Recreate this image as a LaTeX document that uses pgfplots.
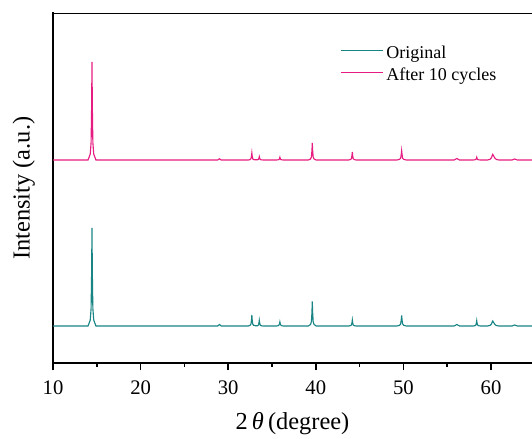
\documentclass[border=0pt]{standalone}
\usepackage{pgfplots}
\pgfplotsset{compat=1.18}
\usepackage{fontspec}
\setmainfont{Liberation Serif}
\definecolor{teal1}{RGB}{24,132,132}
\definecolor{pink1}{RGB}{230,28,128}
\begin{document}
\begin{tikzpicture}
\path[use as bounding box] (0,0) rectangle (399pt,329.25pt);
\begin{axis}[
  at={(39.75pt,57pt)}, anchor=south west,
  scale only axis, width=359.25pt, height=262.125pt,
  xmin=10, xmax=64.68, ymin=0, ymax=349.5,
  axis x line=bottom, axis y line=left,
  axis line style={-, line width=1.5pt, line cap=rect},
  xtick={10,20,30,40,50,60}, minor x tick num=1, ytick=\empty,
  tick align=outside, major tick length=5.5pt, minor tick length=3pt,
  tick style={line width=1.2pt, black},
  /pgf/number format/assume math mode=true,
  xticklabel style={font=\fontsize{15.5}{18}\selectfont, yshift=-4pt},
  xlabel={2\,\textit{θ}\,(degree)}, ylabel={Intensity (a.u.)},
  x label style={at={([yshift=-50.25pt]axis description cs:0.5,0)}, anchor=base, font=\fontsize{18.3}{21}\selectfont},
  y label style={at={([xshift=-17.6pt]axis description cs:0,0.5)}, anchor=base, rotate=0, font=\fontsize{18.3}{21}\selectfont},
  legend style={at={(axis description cs:0.599,0.915)}, anchor=north west, draw=none, fill=none, inner sep=0pt,
    font=\fontsize{13.5}{16}\selectfont, nodes={inner ysep=0pt, inner xsep=2pt, text height=11pt, text depth=5.5pt}},
  legend cell align=left,
  legend image code/.code={\draw[#1] (0pt,3pt) -- (31.5pt,3pt);},
]
\addlegendimage{teal1, line width=1.1pt}
\addlegendentry{Original}
\addlegendimage{pink1, line width=1.1pt}
\addlegendentry{After 10 cycles}
\addplot[teal1, line width=0.85pt, forget plot] coordinates {
(10,37) (14.0,37) (14.25,42.9) (14.35,54.6) (14.41,90.9) (14.45,135) (14.49,90.9) (14.55,54.6) (14.65,42.9) (14.9,37)
(28.8,37) (29.0,38.5) (29.2,37)
(32.3,37) (32.5,37.7) (32.6,39) (32.66,43) (32.7,48) (32.74,43) (32.8,39) (32.9,37.7) (33.1,37.3)
(33.35,37.3) (33.45,38) (33.51,40.1) (33.55,42.6) (33.59,40.1) (33.65,38) (33.75,37.3) (34.0,37)
(35.5,37) (35.7,37.3) (35.8,38) (35.86,39.2) (35.9,41) (35.94,39.2) (36.0,38) (36.1,37.3) (36.3,37)
(39.15,37) (39.4,38.5) (39.5,41.4) (39.56,50.5) (39.6,61.6) (39.64,50.5) (39.7,41.4) (39.8,38.5) (40.05,37)
(43.75,37) (43.97,37.4) (44.07,38.1) (44.13,40.3) (44.17,43) (44.21,40.3) (44.27,38.1) (44.37,37.4) (44.6,37)
(49.25,37) (49.55,37.6) (49.68,38.9) (49.75,42.8) (49.8,47.6) (49.85,42.8) (49.92,38.9) (50.05,37.6) (50.35,37)
(55.8,37) (56.1,38.5) (56.4,37)
(57.95,37) (58.17,37.3) (58.27,38) (58.33,39.9) (58.37,42.3) (58.41,39.9) (58.47,38) (58.57,37.3) (58.8,37)
(59.6,37) (59.9,37.6) (60.05,39) (60.15,41.2) (60.2,42) (60.3,40.5) (60.45,38.5) (60.6,37.5) (60.9,37)
(62.4,37) (62.7,38) (63.0,37) (64.68,37)
};
\addplot[pink1, line width=0.85pt, forget plot] coordinates {
(10,203) (14.0,203) (14.25,208.9) (14.35,220.6) (14.41,256.9) (14.45,301) (14.49,256.9) (14.55,220.6) (14.65,208.9) (14.9,203)
(28.8,203) (29.0,204.2) (29.2,203)
(32.3,203) (32.5,203.4) (32.6,204.3) (32.66,206.9) (32.7,210) (32.74,206.9) (32.8,204.3) (32.9,203.4) (33.1,203.2)
(33.35,203.2) (33.45,203.6) (33.51,204.8) (33.55,206.3) (33.59,204.8) (33.65,203.6) (33.75,203.2) (34.0,203)
(35.5,203) (35.7,203.2) (35.8,203.5) (35.86,204.5) (35.9,205.7) (35.94,204.5) (36.0,203.5) (36.1,203.2) (36.3,203)
(39.15,203) (39.4,204) (39.5,206.1) (39.56,212.4) (39.6,220) (39.64,212.4) (39.7,206.1) (39.8,204) (40.05,203)
(43.75,203) (43.97,203.5) (44.07,204.4) (44.13,207.4) (44.17,211) (44.21,207.4) (44.27,204.4) (44.37,203.5) (44.6,203)
(49.25,203) (49.55,203.6) (49.68,204.7) (49.75,208.1) (49.8,212.3) (49.85,208.1) (49.92,204.7) (50.05,203.6) (50.35,203)
(55.8,203) (56.1,204.5) (56.4,203)
(57.95,203) (58.17,203.2) (58.27,203.5) (58.33,204.5) (58.37,205.7) (58.41,204.5) (58.47,203.5) (58.57,203.2) (58.8,203)
(59.6,203) (59.9,203.7) (60.05,205.3) (60.15,207.8) (60.2,208.7) (60.3,207) (60.45,204.8) (60.6,203.6) (60.9,203)
(62.4,203) (62.7,204) (63.0,203) (64.68,203)
};
\draw[line width=1.5pt, line cap=rect] (rel axis cs:0,1) -- (rel axis cs:1,1);
\end{axis}
\end{tikzpicture}
\end{document}
